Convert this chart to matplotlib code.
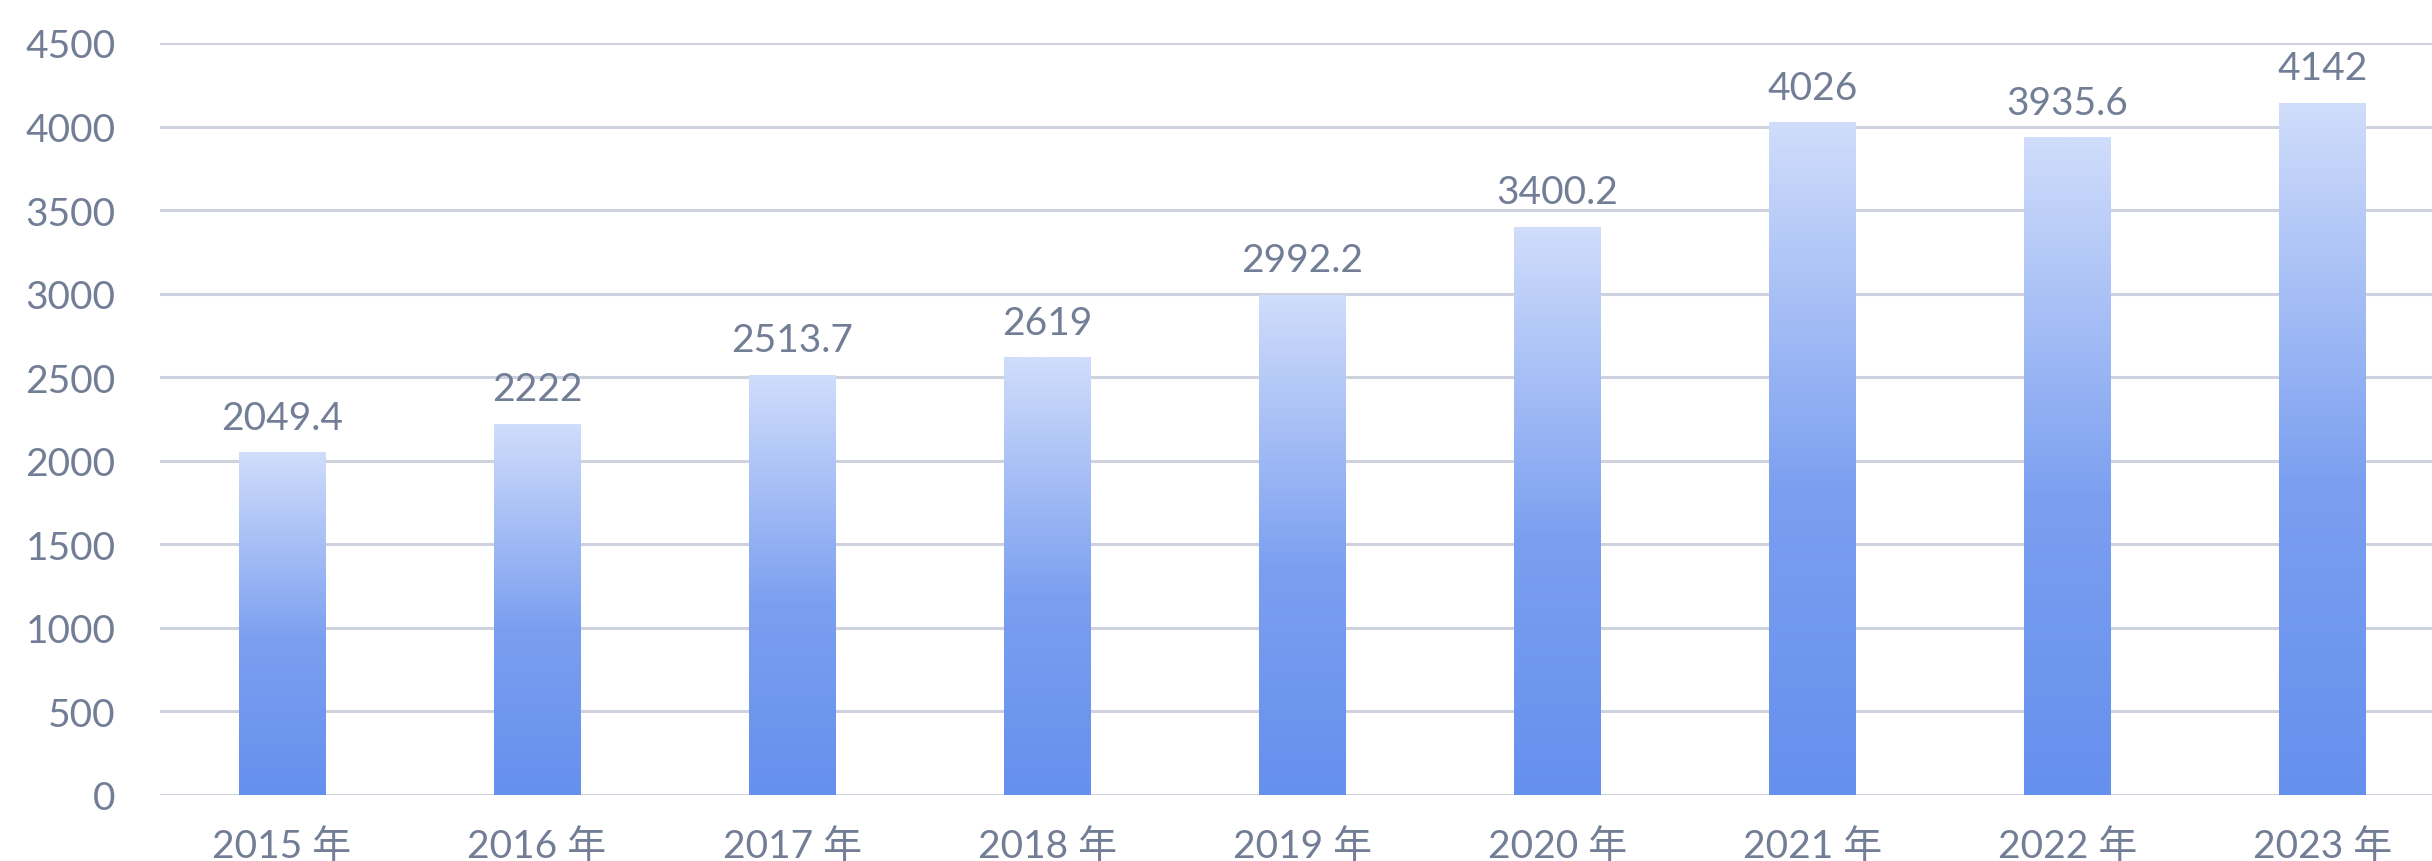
import matplotlib.pyplot as plt
import numpy as np
from matplotlib.colors import LinearSegmentedColormap

# yearly values
years = ["2015 年", "2016 年", "2017 年", "2018 年", "2019 年", "2020 年", "2021 年", "2022 年", "2023 年"]
values = [2049.4, 2222, 2513.7, 2619, 2992.2, 3400.2, 4026, 3935.6, 4142]
value_labels = ["2049.4", "2222", "2513.7", "2619", "2992.2", "3400.2", "4026", "3935.6", "4142"]
y_ticks = [0, 500, 1000, 1500, 2000, 2500, 3000, 3500, 4000, 4500]

text_color = "#727d96"
grid_color = "#cdd2de"
fonts = ["Lato", "Noto Sans CJK SC", "DejaVu Sans"]

plt.rcParams["font.family"] = fonts

fig = plt.figure(figsize=(24.32, 8.62), dpi=100)
ax = fig.add_axes([0.0658, 0.0766, 0.9342, 0.8724])

x = np.arange(len(years))
bars = ax.bar(x, values, width=0.34, facecolor="none", edgecolor="none", zorder=3)

# vertical gradient inside each bar: pale at the top, deeper blue below
cmap = LinearSegmentedColormap.from_list(
    "bar_fade", [(0.0, "#6690ee"), (0.45, "#7b9ff0"), (1.0, "#d0ddfb")])
grad = np.linspace(0, 1, 256).reshape(-1, 1)
for bar in bars:
    x0, w, h = bar.get_x(), bar.get_width(), bar.get_height()
    im = ax.imshow(grad, extent=[x0, x0 + w, 0, h], origin="lower",
                   aspect="auto", cmap=cmap, zorder=2)
    im.set_clip_path(bar)

ax.bar_label(bars, labels=value_labels, padding=12, color=text_color,
             fontsize=28)

ax.set_xlim(-0.478, 8.43)
ax.set_ylim(0, 4500)
ax.set_yticks(y_ticks)
ax.set_xticks(x)
ax.set_xticklabels(years)

ax.grid(axis="y", color=grid_color, linewidth=2.2, zorder=1)
ax.set_axisbelow(True)
for spine in ax.spines.values():
    spine.set_visible(False)

ax.tick_params(axis="both", length=0, labelsize=28, labelcolor=text_color)
ax.tick_params(axis="y", pad=32)
ax.tick_params(axis="x", pad=24)

fig.savefig("out.png", dpi=100, facecolor="white")
